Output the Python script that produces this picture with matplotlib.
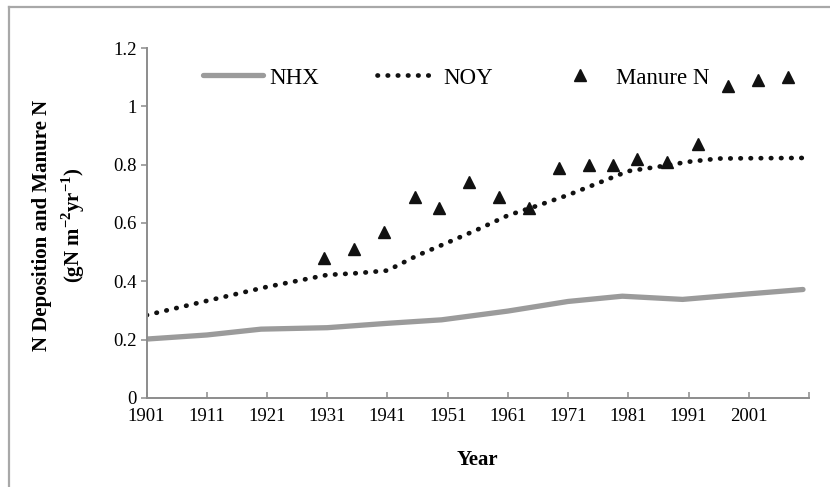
import numpy as np
import matplotlib
matplotlib.use("Agg")
import matplotlib.pyplot as plt
from matplotlib.lines import Line2D

plt.rcParams['font.family'] = ['Liberation Serif', 'DejaVu Serif']
plt.rcParams['mathtext.fontset'] = 'custom'
plt.rcParams['mathtext.rm'] = 'Liberation Serif'
plt.rcParams['mathtext.bf'] = 'Liberation Serif:bold'

# NHX deposition (solid grey)
nhx_years = [1901, 1911, 1920, 1931, 1941, 1950, 1961, 1971, 1980, 1990, 2001, 2010]
nhx_vals = [0.202, 0.216, 0.236, 0.241, 0.256, 0.268, 0.298, 0.331, 0.349, 0.338, 0.357, 0.372]

# NOY deposition (dotted black)
noy_years = [1901, 1911, 1921, 1931, 1936, 1941, 1946, 1951, 1956, 1961, 1966, 1971,
             1976, 1981, 1986, 1991, 1996, 2001, 2010]
noy_vals = [0.284, 0.333, 0.381, 0.422, 0.428, 0.437, 0.489, 0.533, 0.578, 0.626, 0.66, 0.696,
            0.737, 0.778, 0.793, 0.81, 0.821, 0.822, 0.823]

# Manure N (triangles)
man_years = [1930.5, 1935.5, 1940.5, 1945.5, 1949.5, 1954.5, 1959.5, 1964.5, 1969.5, 1974.5,
             1978.5, 1982.5, 1987.5, 1992.5, 1997.5, 2002.5, 2007.5]
man_vals = [0.48, 0.51, 0.57, 0.69, 0.65, 0.74, 0.69, 0.65, 0.79, 0.80,
            0.80, 0.82, 0.81, 0.87, 1.07, 1.09, 1.10]

xticks = [1901, 1911, 1921, 1931, 1941, 1951, 1961, 1971, 1981, 1991, 2001, 2011]
xticklabels = ['1901', '1911', '1921', '1931', '1941', '1951', '1961', '1971', '1981', '1991', '2001', '']
yticks = [0, 0.2, 0.4, 0.6, 0.8, 1.0, 1.2]
yticklabels = ['0', '0.2', '0.4', '0.6', '0.8', '1', '1.2']

fig = plt.figure(figsize=(8.3, 4.87), dpi=100)
ax = fig.add_axes([0.1766, 0.1828, 0.9747 - 0.1766, 0.9014 - 0.1828])

ax.plot(nhx_years, nhx_vals, color='#9b9b9b', lw=3.8, solid_capstyle='round', label='NHX')
ax.plot(noy_years, noy_vals, color='#111111', lw=3.4, linestyle=(0, (0.1, 2.05)),
        dash_capstyle='round', label='NOY')
ax.plot(man_years, man_vals, linestyle='none', marker='^', markersize=8.5,
        color='#111111', label='Manure N')

ax.set_xlim(1901, 2011)
ax.set_ylim(0, 1.2)
ax.set_xticks(xticks)
ax.set_xticklabels(xticklabels)
ax.set_yticks(yticks)
ax.set_yticklabels(yticklabels)

spine_c = '#8c8c8c'
for s in ['top', 'right']:
    ax.spines[s].set_visible(False)
for s in ['left', 'bottom']:
    ax.spines[s].set_color(spine_c)
    ax.spines[s].set_linewidth(1.4)
ax.tick_params(axis='x', direction='in', length=4, width=1.1, color=spine_c,
               labelsize=13.5, pad=7)
ax.tick_params(axis='y', direction='out', length=4, width=1.1, color=spine_c,
               labelsize=13.5, pad=3)

leg = ax.legend(loc='center left', bbox_to_anchor=(203 / 830, 1 - 78 / 487),
                bbox_transform=fig.transFigure, ncol=3, frameon=False, fontsize=16.5,
                handlelength=2.6, handletextpad=0.3, columnspacing=2.5,
                numpoints=1, borderpad=0, borderaxespad=0)

fig.text(477 / 830, 1 - 460 / 487, 'Year', ha='center', va='center',
         fontsize=15, fontweight='bold')
fig.text(42 / 830, 0.538, 'N Deposition and Manure N', rotation=90,
         ha='center', va='center', fontsize=15, fontweight='bold')
fig.text(73 / 830, 0.538, r'(gN m$^{\mathbf{-2}}$yr$^{\mathbf{-1}}$)', rotation=90,
         ha='center', va='center', fontsize=15, fontweight='bold')

# outer frame (only left and top edges visible in the crop)
border = '#a8a8a8'
fig.add_artist(Line2D([9 / 830, 9 / 830], [0, 1 - 7 / 487], color=border, lw=1.6,
                      transform=fig.transFigure))
fig.add_artist(Line2D([9 / 830, 1], [1 - 7 / 487, 1 - 7 / 487], color=border, lw=1.6,
                      transform=fig.transFigure))

fig.savefig('out.png', dpi=100)
